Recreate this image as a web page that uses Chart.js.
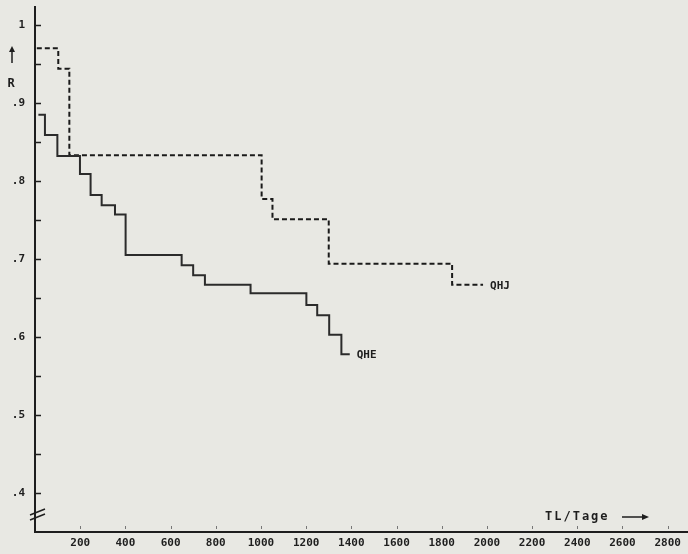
<!DOCTYPE html>
<html>
<head>
<meta charset="utf-8">
<script src="https://cdn.jsdelivr.net/npm/chart.js@4.4.1/dist/chart.umd.min.js"></script>
<style>
  html, body { margin: 0; padding: 0; background: #e8e8e3; }
  canvas { display: block; }
</style>
</head>
<body>
<canvas id="survChart" width="688" height="554"></canvas>
<script>
// QHE - solid step curve (days, R after the step)
const qheDays = [15, 44, 99, 199, 246, 295, 354, 401, 649, 700, 752, 954, 1201, 1249, 1302, 1356, 1393];
const qheR    = [0.885, 0.859, 0.832, 0.809, 0.782, 0.769, 0.757, 0.705, 0.692, 0.679, 0.667, 0.656, 0.641, 0.628, 0.603, 0.578, 0.578];

// QHJ - dashed step curve
const qhjDays = [8, 103, 152, 1003, 1051, 1300, 1846, 1983];
const qhjR    = [0.970, 0.944, 0.833, 0.777, 0.751, 0.694, 0.667, 0.667];

// axis ticks
const xTicks = [200, 400, 600, 800, 1000, 1200, 1400, 1600, 1800, 2000, 2200, 2400, 2600, 2800];
const yTicks = [0.4, 0.45, 0.5, 0.55, 0.6, 0.65, 0.7, 0.75, 0.8, 0.85, 0.9, 0.95, 1.0];
const yLabels = ['.4', '', '.5', '', '.6', '', '.7', '', '.8', '', '.9', '', '1'];

const INK = '#1e1e1e';
const MONO = 'DejaVu Sans Mono';

const toPoints = (xs, ys) => xs.map((x, i) => ({ x: x, y: ys[i] }));

// no label overhang padding, chart area sits exactly where we want it
const noPad = s => { s.paddingTop = 0; s.paddingBottom = 0; s.paddingLeft = 0; s.paddingRight = 0; };

// paper background + hand-drawn bits (inner ticks, arrows, labels)
const paperPlugin = {
    id: 'paper',
    beforeDraw(chart) {
        const ctx = chart.ctx;
        ctx.save();
        ctx.fillStyle = '#e8e8e3';
        ctx.fillRect(0, 0, chart.width, chart.height);
        ctx.restore();
    },
    afterDraw(chart) {
        const ctx = chart.ctx;
        const { left, bottom } = chart.chartArea;
        const xs = chart.scales.x, ys = chart.scales.y;
        ctx.save();
        ctx.strokeStyle = INK;
        ctx.lineWidth = 1.5;

        // y ticks pointing inwards
        yTicks.forEach(v => {
            const py = Math.round(ys.getPixelForValue(v)) + 0.5;
            ctx.beginPath();
            ctx.moveTo(left, py);
            ctx.lineTo(left + 6, py);
            ctx.stroke();
        });

        // small x tick marks above axis
        ctx.strokeStyle = '#777';
        ctx.lineWidth = 1;
        xTicks.forEach(v => {
            const px = Math.round(xs.getPixelForValue(v)) + 0.5;
            ctx.beginPath();
            ctx.moveTo(px, bottom - 6);
            ctx.lineTo(px, bottom - 3);
            ctx.stroke();
        });

        // axis break marks
        ctx.strokeStyle = INK;
        ctx.lineWidth = 1.5;
        ctx.beginPath();
        ctx.moveTo(left - 5, bottom - 17); ctx.lineTo(left + 10, bottom - 23);
        ctx.moveTo(left - 5, bottom - 12); ctx.lineTo(left + 10, bottom - 18);
        ctx.stroke();

        // R with up arrow
        ctx.fillStyle = INK;
        ctx.beginPath();
        ctx.moveTo(12, 63); ctx.lineTo(12, 49);
        ctx.stroke();
        ctx.beginPath();
        ctx.moveTo(9, 52); ctx.lineTo(12, 46); ctx.lineTo(15, 52);
        ctx.closePath();
        ctx.fill();
        ctx.font = 'bold 12px ' + MONO;
        ctx.textAlign = 'center';
        ctx.textBaseline = 'middle';
        ctx.fillText('R', 11, 84);

        // x axis title with arrow
        ctx.textAlign = 'left';
        ctx.letterSpacing = '2px';
        ctx.fillText('TL/Tage', 545, 517);
        ctx.letterSpacing = '0px';
        ctx.beginPath();
        ctx.moveTo(622, 517); ctx.lineTo(644, 517);
        ctx.stroke();
        ctx.beginPath();
        ctx.moveTo(642, 514); ctx.lineTo(649, 517); ctx.lineTo(642, 520);
        ctx.closePath();
        ctx.fill();

        // curve names at line ends
        ctx.font = 'bold 11px ' + MONO;
        chart.data.datasets.forEach((ds, i) => {
            const pts = chart.getDatasetMeta(i).data;
            const last = pts[pts.length - 1];
            ctx.fillText(ds.label, last.x + 7, last.y + 1);
        });
        ctx.restore();
    }
};

new Chart(document.getElementById('survChart'), {
    type: 'line',
    data: {
        datasets: [
            {
                label: 'QHE',
                data: toPoints(qheDays, qheR),
                stepped: 'before',
                borderColor: '#2b2b2b',
                borderWidth: 2,
                pointRadius: 0,
                fill: false
            },
            {
                label: 'QHJ',
                data: toPoints(qhjDays, qhjR),
                stepped: 'before',
                borderColor: '#1a1a1a',
                borderWidth: 2,
                borderDash: [5, 3],
                pointRadius: 0,
                fill: false
            }
        ]
    },
    options: {
        responsive: false,
        animation: false,
        layout: { padding: { top: 7, right: 0, left: 0, bottom: 0 } },
        plugins: {
            legend: { display: false },
            tooltip: { enabled: false }
        },
        scales: {
            x: {
                type: 'linear',
                min: 0,
                max: 2890,
                afterBuildTicks: axis => { axis.ticks = xTicks.map(v => ({ value: v })); },
                afterFit: s => { s.height = 22; noPad(s); },
                ticks: {
                    autoSkip: false,
                    maxRotation: 0,
                    padding: 5,
                    color: INK,
                    font: { family: MONO, size: 11, weight: 'bold' },
                    callback: v => String(v)
                },
                grid: { display: false, drawTicks: false },
                border: { display: true, color: INK, width: 2 }
            },
            y: {
                type: 'linear',
                min: 0.35,
                max: 1.023,
                afterBuildTicks: axis => { axis.ticks = yTicks.map(v => ({ value: v })); },
                afterFit: s => { s.width = 35; noPad(s); },
                ticks: {
                    autoSkip: false,
                    padding: 10,
                    color: INK,
                    font: { family: MONO, size: 11, weight: 'bold' },
                    callback: (v, i) => yLabels[i]
                },
                grid: { display: false, drawTicks: false },
                border: { display: true, color: INK, width: 2 }
            }
        }
    },
    plugins: [paperPlugin]
});
</script>
</body>
</html>
